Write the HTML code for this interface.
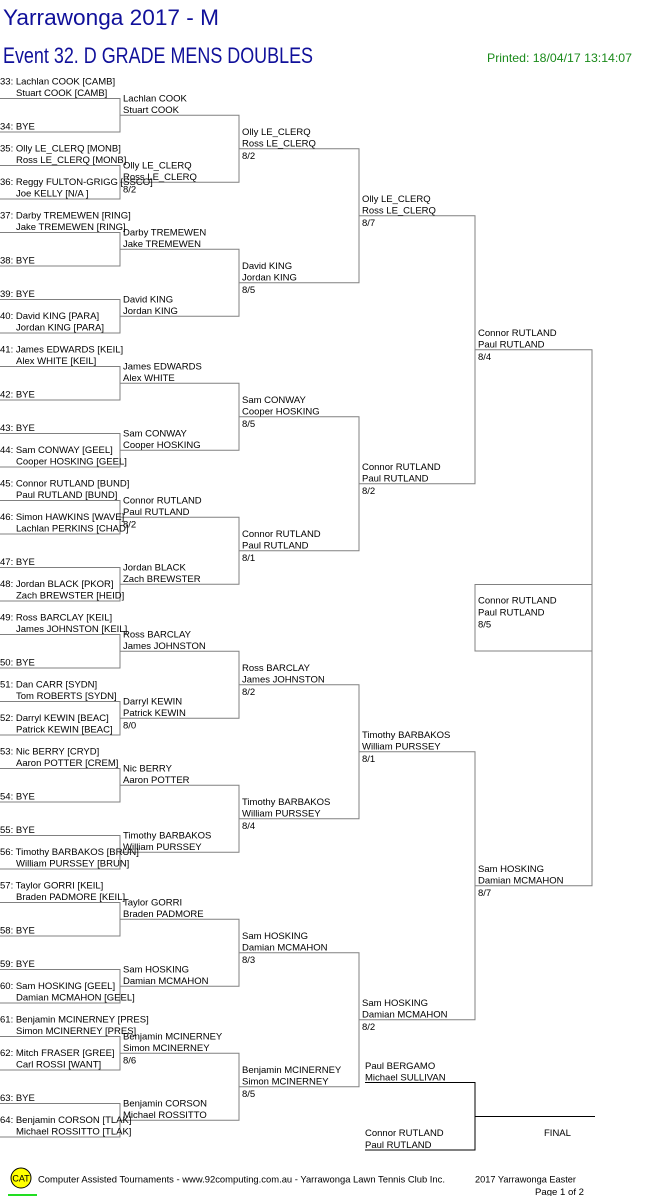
<!DOCTYPE html>
<html><head><meta charset="utf-8"><style>
html,body{margin:0;padding:0;background:#fff;width:661px;height:1196px;overflow:hidden}
svg{display:block}
text{font-family:"Liberation Sans",Arial,sans-serif}
</style></head><body>
<svg width="661" height="1196" viewBox="0 0 661 1196" xmlns="http://www.w3.org/2000/svg">
<text x="3" y="25" font-size="22" fill="#10109a" textLength="216" lengthAdjust="spacingAndGlyphs">Yarrawonga 2017 - M</text>
<text x="3" y="63" font-size="22" fill="#10109a" textLength="310" lengthAdjust="spacingAndGlyphs">Event 32. D GRADE MENS DOUBLES</text>
<text x="487" y="62" font-size="12" fill="#1a8a1a" textLength="145" lengthAdjust="spacingAndGlyphs">Printed: 18/04/17 13:14:07</text>

<g fill="none" stroke="#808080" stroke-width="1">
<path d="M0,98.5H120V132H0 M0,165.5H120V199H0 M0,232.5H120V266H0 M0,299.5H120V333H0 M0,366.5H120V400H0 M0,433.5H120V467H0 M0,500.5H120V534H0 M0,567.5H120V601H0 M0,634.5H120V668H0 M0,701.5H120V735H0 M0,768.5H120V802H0 M0,835.5H120V869H0 M0,902.5H120V936H0 M0,969.5H120V1003H0 M0,1036.5H120V1070H0 M0,1103.5H120V1137H0"/>
<path d="M120,115.25H239V182.25H120 M120,249.25H239V316.25H120 M120,383.25H239V450.25H120 M120,517.25H239V584.25H120 M120,651.25H239V718.25H120 M120,785.25H239V852.25H120 M120,919.25H239V986.25H120 M120,1053.25H239V1120.25H120"/>
<path d="M239,148.75H359V282.75H239 M239,416.75H359V550.75H239 M239,684.75H359V818.75H239 M239,952.75H359V1086.75H239"/>
<path d="M359,215.75H475V483.75H359 M359,751.75H475V1019.75H359"/>
<path d="M475,349.75H592V885.75H475"/>
<path d="M592,584.5H475V651H592"/>
</g>
<g fill="none" stroke="#000" stroke-width="1">
<path d="M365,1082.5H475V1150H365 M475,1116.5H595"/>
</g>

<g font-size="9.5" fill="#000">
<text x="0" y="84.5">33: Lachlan COOK [CAMB]</text><text x="16" y="96">Stuart COOK [CAMB]</text>
<text x="0" y="129.5">34: BYE</text>
<text x="0" y="151.5">35: Olly LE_CLERQ [MONB]</text><text x="16" y="163">Ross LE_CLERQ [MONB]</text>
<text x="0" y="185">36: Reggy FULTON-GRIGG [SSCO]</text><text x="16" y="196.5">Joe KELLY [N/A ]</text>
<text x="0" y="218.5">37: Darby TREMEWEN [RING]</text><text x="16" y="230">Jake TREMEWEN [RING]</text>
<text x="0" y="263.5">38: BYE</text>
<text x="0" y="297">39: BYE</text>
<text x="0" y="319">40: David KING [PARA]</text><text x="16" y="330.5">Jordan KING [PARA]</text>
<text x="0" y="352.5">41: James EDWARDS [KEIL]</text><text x="16" y="364">Alex WHITE [KEIL]</text>
<text x="0" y="397.5">42: BYE</text>
<text x="0" y="431">43: BYE</text>
<text x="0" y="453">44: Sam CONWAY [GEEL]</text><text x="16" y="464.5">Cooper HOSKING [GEEL]</text>
<text x="0" y="486.5">45: Connor RUTLAND [BUND]</text><text x="16" y="498">Paul RUTLAND [BUND]</text>
<text x="0" y="520">46: Simon HAWKINS [WAVE]</text><text x="16" y="531.5">Lachlan PERKINS [CHAD]</text>
<text x="0" y="565">47: BYE</text>
<text x="0" y="587">48: Jordan BLACK [PKOR]</text><text x="16" y="598.5">Zach BREWSTER [HEID]</text>
<text x="0" y="620.5">49: Ross BARCLAY [KEIL]</text><text x="16" y="632">James JOHNSTON [KEIL]</text>
<text x="0" y="665.5">50: BYE</text>
<text x="0" y="687.5">51: Dan CARR [SYDN]</text><text x="16" y="699">Tom ROBERTS [SYDN]</text>
<text x="0" y="721">52: Darryl KEWIN [BEAC]</text><text x="16" y="732.5">Patrick KEWIN [BEAC]</text>
<text x="0" y="754.5">53: Nic BERRY [CRYD]</text><text x="16" y="766">Aaron POTTER [CREM]</text>
<text x="0" y="799.5">54: BYE</text>
<text x="0" y="833">55: BYE</text>
<text x="0" y="855">56: Timothy BARBAKOS [BRUN]</text><text x="16" y="866.5">William PURSSEY [BRUN]</text>
<text x="0" y="888.5">57: Taylor GORRI [KEIL]</text><text x="16" y="900">Braden PADMORE [KEIL]</text>
<text x="0" y="933.5">58: BYE</text>
<text x="0" y="967">59: BYE</text>
<text x="0" y="989">60: Sam HOSKING [GEEL]</text><text x="16" y="1000.5">Damian MCMAHON [GEEL]</text>
<text x="0" y="1022.5">61: Benjamin MCINERNEY [PRES]</text><text x="16" y="1034">Simon MCINERNEY [PRES]</text>
<text x="0" y="1056">62: Mitch FRASER [GREE]</text><text x="16" y="1067.5">Carl ROSSI [WANT]</text>
<text x="0" y="1101">63: BYE</text>
<text x="0" y="1123">64: Benjamin CORSON [TLAK]</text><text x="16" y="1134.5">Michael ROSSITTO [TLAK]</text>
</g>

<g font-size="9.5" fill="#000">
<text x="123" y="101.3">Lachlan COOK</text><text x="123" y="112.8">Stuart COOK</text>
<text x="123" y="168.3">Olly LE_CLERQ</text><text x="123" y="179.8">Ross LE_CLERQ</text><text x="123" y="192.3">8/2</text>
<text x="123" y="235.3">Darby TREMEWEN</text><text x="123" y="246.8">Jake TREMEWEN</text>
<text x="123" y="302.3">David KING</text><text x="123" y="313.8">Jordan KING</text>
<text x="123" y="369.3">James EDWARDS</text><text x="123" y="380.8">Alex WHITE</text>
<text x="123" y="436.3">Sam CONWAY</text><text x="123" y="447.8">Cooper HOSKING</text>
<text x="123" y="503.3">Connor RUTLAND</text><text x="123" y="514.8">Paul RUTLAND</text><text x="123" y="527.3">8/2</text>
<text x="123" y="570.3">Jordan BLACK</text><text x="123" y="581.8">Zach BREWSTER</text>
<text x="123" y="637.3">Ross BARCLAY</text><text x="123" y="648.8">James JOHNSTON</text>
<text x="123" y="704.3">Darryl KEWIN</text><text x="123" y="715.8">Patrick KEWIN</text><text x="123" y="728.3">8/0</text>
<text x="123" y="771.3">Nic BERRY</text><text x="123" y="782.8">Aaron POTTER</text>
<text x="123" y="838.3">Timothy BARBAKOS</text><text x="123" y="849.8">William PURSSEY</text>
<text x="123" y="905.3">Taylor GORRI</text><text x="123" y="916.8">Braden PADMORE</text>
<text x="123" y="972.3">Sam HOSKING</text><text x="123" y="983.8">Damian MCMAHON</text>
<text x="123" y="1039.3">Benjamin MCINERNEY</text><text x="123" y="1050.8">Simon MCINERNEY</text><text x="123" y="1063.3">8/6</text>
<text x="123" y="1106.3">Benjamin CORSON</text><text x="123" y="1117.8">Michael ROSSITTO</text>

<text x="242" y="134.8">Olly LE_CLERQ</text><text x="242" y="146.3">Ross LE_CLERQ</text><text x="242" y="158.8">8/2</text>
<text x="242" y="268.8">David KING</text><text x="242" y="280.3">Jordan KING</text><text x="242" y="292.8">8/5</text>
<text x="242" y="402.8">Sam CONWAY</text><text x="242" y="414.3">Cooper HOSKING</text><text x="242" y="426.8">8/5</text>
<text x="242" y="536.8">Connor RUTLAND</text><text x="242" y="548.3">Paul RUTLAND</text><text x="242" y="560.8">8/1</text>
<text x="242" y="670.8">Ross BARCLAY</text><text x="242" y="682.3">James JOHNSTON</text><text x="242" y="694.8">8/2</text>
<text x="242" y="804.8">Timothy BARBAKOS</text><text x="242" y="816.3">William PURSSEY</text><text x="242" y="828.8">8/4</text>
<text x="242" y="938.8">Sam HOSKING</text><text x="242" y="950.3">Damian MCMAHON</text><text x="242" y="962.8">8/3</text>
<text x="242" y="1072.8">Benjamin MCINERNEY</text><text x="242" y="1084.3">Simon MCINERNEY</text><text x="242" y="1096.8">8/5</text>

<text x="362" y="201.8">Olly LE_CLERQ</text><text x="362" y="213.3">Ross LE_CLERQ</text><text x="362" y="225.8">8/7</text>
<text x="362" y="469.8">Connor RUTLAND</text><text x="362" y="481.3">Paul RUTLAND</text><text x="362" y="493.8">8/2</text>
<text x="362" y="737.8">Timothy BARBAKOS</text><text x="362" y="749.3">William PURSSEY</text><text x="362" y="761.8">8/1</text>
<text x="362" y="1005.8">Sam HOSKING</text><text x="362" y="1017.3">Damian MCMAHON</text><text x="362" y="1029.8">8/2</text>

<text x="478" y="335.8">Connor RUTLAND</text><text x="478" y="347.3">Paul RUTLAND</text><text x="478" y="359.8">8/4</text>
<text x="478" y="871.8">Sam HOSKING</text><text x="478" y="883.3">Damian MCMAHON</text><text x="478" y="895.8">8/7</text>
<text x="478" y="603.5">Connor RUTLAND</text><text x="478" y="615.5">Paul RUTLAND</text><text x="478" y="627.5">8/5</text>

<text x="365" y="1069">Paul BERGAMO</text><text x="365" y="1080.5">Michael SULLIVAN</text>
<text x="365" y="1136">Connor RUTLAND</text><text x="365" y="1148">Paul RUTLAND</text>
<text x="544" y="1136">FINAL</text>
</g>

<circle cx="21" cy="1178" r="10" fill="#ffff00" stroke="#000" stroke-width="1"/>
<text x="21" y="1181.5" font-size="9" text-anchor="middle" fill="#000">CAT</text>
<rect x="8" y="1194" width="29" height="2" fill="#22dd22"/>
<g font-size="9.5" fill="#000">
<text x="38" y="1182.5" textLength="407" lengthAdjust="spacingAndGlyphs">Computer Assisted Tournaments - www.92computing.com.au -  Yarrawonga Lawn Tennis Club Inc.</text>
<text x="475" y="1182.5" textLength="101" lengthAdjust="spacingAndGlyphs">2017 Yarrawonga Easter</text>
<text x="535" y="1195" textLength="49" lengthAdjust="spacingAndGlyphs">Page 1 of 2</text>
</g>
</svg>
</body></html>
